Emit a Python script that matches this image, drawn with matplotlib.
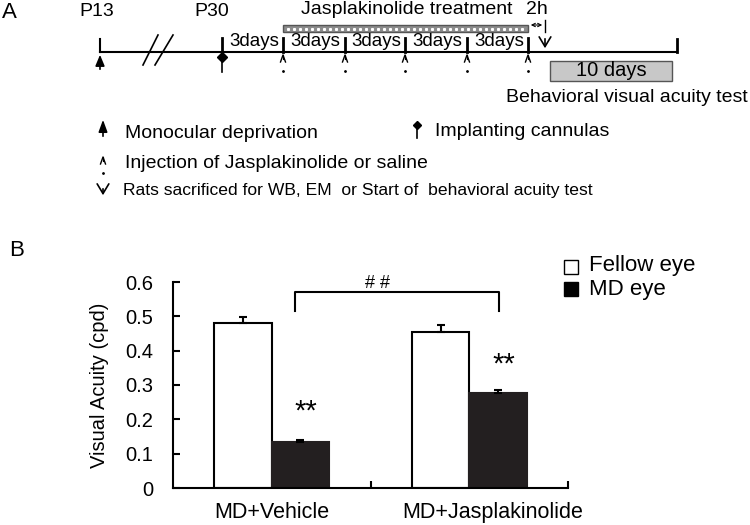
import matplotlib
matplotlib.use("Agg")
import matplotlib.pyplot as plt
import numpy as np
from matplotlib.patches import Rectangle

plt.rcParams['font.family'] = ['Liberation Sans', 'DejaVu Sans']
plt.rcParams['font.size'] = 13

# data for panel B
groups = ["MD+Vehicle", "MD+Jasplakinolide"]
fellow_mean = [0.48, 0.453]
fellow_err = [0.017, 0.022]
md_mean = [0.134, 0.277]
md_err = [0.005, 0.009]
series_names = ["Fellow eye", "MD eye"]
y_ticks = [0, 0.1, 0.2, 0.3, 0.4, 0.5, 0.6]
y_ticklabels = ["0", "0.1", "0.2", "0.3", "0.4", "0.5", "0.6"]

# timeline schematic (panel A), pixel positions in the figure
tick_x = [222, 283, 345, 405, 467, 528]
inject_x = [283, 345, 405, 467, 528]

fig = plt.figure(figsize=(7.5, 5.25), dpi=100)

# overlay axes in pixel coordinates for panel A
ov = fig.add_axes([0, 0, 1, 1])
ov.set_xlim(0, 750)
ov.set_ylim(525, 0)
ov.axis('off')

fs = 14
lw = 1.5
k = 'black'
ov.text(2, 13, "A", fontsize=16, va='center', ha='left')
ov.text(9, 251, "B", fontsize=16, va='center', ha='left')

ov.text(97, 11, "P13", fontsize=fs, ha='center', va='center')
ov.text(212, 11, "P30", fontsize=fs, ha='center', va='center')
ov.text(407, 9, "Jasplakinolide treatment", fontsize=fs, ha='center', va='center')
ov.text(537, 9, "2h", fontsize=fs, ha='center', va='center')

# main line
ov.plot([100, 677], [52, 52], color=k, lw=lw)
ov.plot([100, 100], [39, 52], color=k, lw=lw)
ov.plot([677, 677], [39, 52], color=k, lw=2)
for x in tick_x:
    ov.plot([x, x], [38, 52], color=k, lw=2)
# break marks
ov.plot([143, 158], [65, 35], color=k, lw=1.2)
ov.plot([155, 173], [65, 35], color=k, lw=1.2)

for i in range(len(tick_x) - 1):
    ov.text((tick_x[i] + tick_x[i + 1]) / 2 + 1.5, 42, "3days", fontsize=13.5,
            ha='center', va='center')

# monocular deprivation arrow
ov.annotate("", xy=(100, 52), xytext=(100, 72),
            arrowprops=dict(arrowstyle='-|>, head_length=0.6, head_width=0.25',
                            color=k, lw=1.2, mutation_scale=11))
# cannula pin
ov.plot([222, 222], [56, 72], color=k, lw=1.2)
ov.plot(222, 57, marker='D', color=k, ms=5)


def injection(x, y):
    ov.plot([x - 2.5, x, x + 2.5], [y + 7, y, y + 7], color=k, lw=1)
    ov.plot([x, x], [y, y + 4], color=k, lw=0.8)
    ov.plot(x, y + 16, marker='.', color=k, ms=2)


for x in inject_x:
    injection(x, 55)

# treatment bar
ov.add_patch(Rectangle((283, 25), 245, 7, facecolor='#8c8c8c',
                       edgecolor='#555555', lw=1))
ov.plot(np.arange(288, 525, 6), np.full(len(np.arange(288, 525, 6)), 28.5),
        ls='none', marker='s', color='white', ms=1.2)
# 2h marker
ov.annotate("", xy=(545, 25), xytext=(528, 25),
            arrowprops=dict(arrowstyle='<->', color=k, lw=0.8, mutation_scale=6))
ov.plot([545, 545], [20, 32], color=k, lw=1)
ov.annotate("", xy=(545, 51), xytext=(545, 36),
            arrowprops=dict(arrowstyle='->, head_length=0.5, head_width=0.3',
                            color=k, lw=1.2, mutation_scale=14))

# 10 days box
ov.add_patch(Rectangle((550, 61), 122, 20, facecolor='#c8c8c8',
                       edgecolor='#555555', lw=1))
ov.text(611, 71, "10 days", fontsize=fs + 0.5, ha='center', va='center')
ov.text(506, 97, "Behavioral visual acuity test", fontsize=fs, ha='left', va='center')

# legend for panel A
ov.annotate("", xy=(103, 117), xytext=(103, 139),
            arrowprops=dict(arrowstyle='-|>, head_length=0.6, head_width=0.22',
                            color=k, lw=1.2, mutation_scale=12))
ov.text(125, 133, "Monocular deprivation", fontsize=fs, va='center')
ov.plot([417, 417], [125, 138], color=k, lw=1.2)
ov.plot(417, 125, marker='D', color=k, ms=4)
ov.text(435, 131, "Implanting cannulas", fontsize=fs, va='center')
injection(103, 157)
ov.text(125, 163, "Injection of Jasplakinolide or saline", fontsize=fs, va='center')
ov.annotate("", xy=(103, 198), xytext=(103, 186),
            arrowprops=dict(arrowstyle='->, head_length=0.5, head_width=0.3',
                            color=k, lw=1.2, mutation_scale=14))
ov.text(123, 191, "Rats sacrificed for WB, EM  or Start of  behavioral acuity test",
        fontsize=12.6, va='center')

# panel B
ax = fig.add_axes([173 / 750, 1 - 488 / 525, (568 - 173) / 750, (488 - 282) / 525])
ax.set_facecolor('none')
x = np.arange(len(groups))
w = 0.29
ax.bar(x - w / 2, fellow_mean, w, color='white', edgecolor=k, lw=1.5,
       yerr=[np.zeros(2), fellow_err], capsize=3, error_kw=dict(lw=1.5, capthick=1.5),
       label=series_names[0])
ax.bar(x + w / 2, md_mean, w, color='#231f20', edgecolor='#231f20', lw=1.5,
       yerr=[np.zeros(2), md_err], capsize=3, error_kw=dict(lw=1.5, capthick=1.5),
       label=series_names[1])
ax.set_xlim(-0.5, 1.5)
ax.set_ylim(0, 0.6)
ax.set_yticks(y_ticks)
ax.set_yticklabels(y_ticklabels, fontsize=14.5)
ax.set_xticks([0.5, 1.5])
ax.set_xticklabels([])
ax.tick_params(direction='in', length=5, width=1.5)
ax.tick_params(axis='y', pad=14)
for s in ['top', 'right']:
    ax.spines[s].set_visible(False)
for s in ['left', 'bottom']:
    ax.spines[s].set_linewidth(1.5)
ax.set_ylabel("Visual Acuity (cpd)", fontsize=14.5, labelpad=12)

# category labels
ax.text(0, -0.07, groups[0], fontsize=15.5, ha='center', va='center')
ax.text(1.12, -0.07, groups[1], fontsize=15.5, ha='center', va='center')

# significance marks
ax.plot([0.12, 0.12, 1.15, 1.15], [0.516, 0.571, 0.571, 0.516], color=k, lw=1.5, clip_on=False)
ax.text(0.535, 0.596, "# #", fontsize=13, ha='center', va='center')
ax.text(x[0] + w / 2 + 0.03, 0.222, "**", fontsize=21, ha='center', va='center')
ax.text(x[1] + w / 2 + 0.03, 0.36, "**", fontsize=21, ha='center', va='center')

# legend
ov.plot(571, 267, marker='s', ms=9.5, mfc='white', mec=k, mew=1)
ov.text(589, 266, series_names[0], fontsize=16, va='center')
ov.plot(571, 289, marker='s', ms=9.5, mfc=k, mec=k)
ov.text(589, 289, series_names[1], fontsize=16, va='center')

fig.savefig("out.png", dpi=100)
